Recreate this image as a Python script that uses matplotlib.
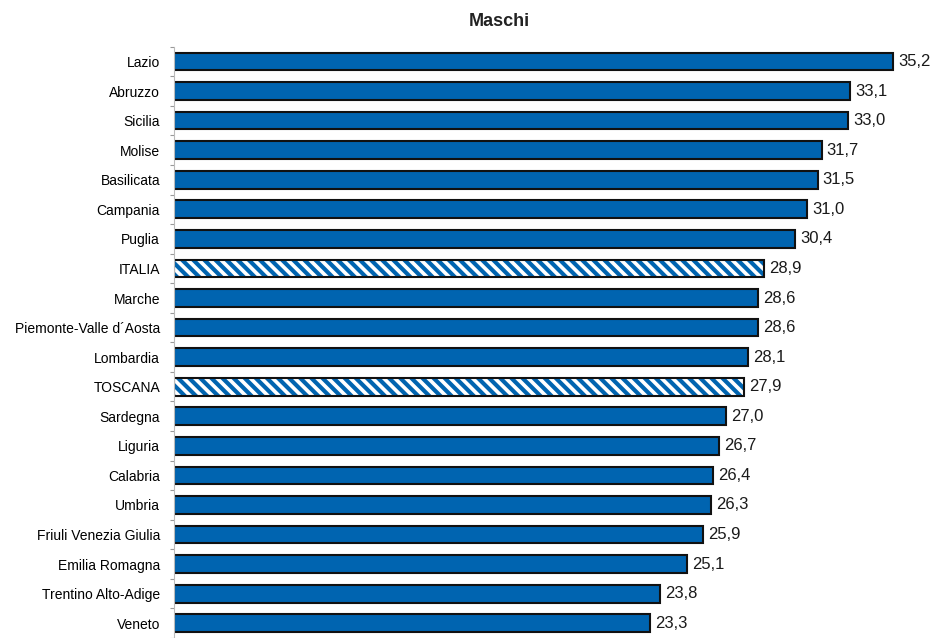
import matplotlib.pyplot as plt
import numpy as np

regions = [
    "Lazio", "Abruzzo", "Sicilia", "Molise", "Basilicata", "Campania",
    "Puglia", "ITALIA", "Marche", "Piemonte-Valle d\u00b4Aosta", "Lombardia",
    "TOSCANA", "Sardegna", "Liguria", "Calabria", "Umbria",
    "Friuli Venezia Giulia", "Emilia Romagna", "Trentino Alto-Adige", "Veneto",
]
values = [35.2, 33.1, 33.0, 31.7, 31.5, 31.0, 30.4, 28.9, 28.6, 28.6, 28.1,
          27.9, 27.0, 26.7, 26.4, 26.3, 25.9, 25.1, 23.8, 23.3]
highlight = ["ITALIA", "TOSCANA"]

blue = "#0064B0"
plt.rcParams["font.family"] = ["Liberation Sans", "DejaVu Sans"]
plt.rcParams["hatch.linewidth"] = 3.0

fig = plt.figure(figsize=(9.36, 6.38), dpi=100)
ax = fig.add_axes([174 / 936, 0, 1 - 174 / 936, 1 - 46.7 / 638])

y = np.arange(len(regions))
for i, (r, v) in enumerate(zip(regions, values)):
    if r in highlight:
        ax.barh(i, v, height=0.6, color="white", hatch="\\\\\\",
                edgecolor=blue, linewidth=0)
        ax.barh(i, v, height=0.6, fill=False, edgecolor="#111111", linewidth=1.5)
    else:
        ax.barh(i, v, height=0.6, color=blue, edgecolor="#111111", linewidth=1.5)
    ax.text(v + 0.25, i, f"{v:.1f}".replace(".", ","), va="center", ha="left",
            fontsize=12, color="#1a1a1a")

ax.set_xlim(0, (936 - 174) / 20.43)
ax.set_ylim(19.21, -0.5)

ax.set_yticks(y)
ax.set_yticklabels(regions, fontsize=10)
ax.set_yticks(np.arange(-0.5, len(regions), 1), minor=True)
ax.tick_params(axis="y", which="major", length=0, pad=10)
ax.tick_params(axis="y", which="minor", length=3, color="#999999", width=0.8)
ax.set_xticks([])
for s in ["top", "right", "bottom"]:
    ax.spines[s].set_visible(False)
ax.spines["left"].set_color("#bbbbbb")
ax.spines["left"].set_linewidth(0.8)

fig.text(499 / 936, 1 - 22 / 638, "Maschi", ha="center", va="center",
         fontsize=13, fontweight="bold", color="#222222")

fig.savefig("out.png", dpi=100)
